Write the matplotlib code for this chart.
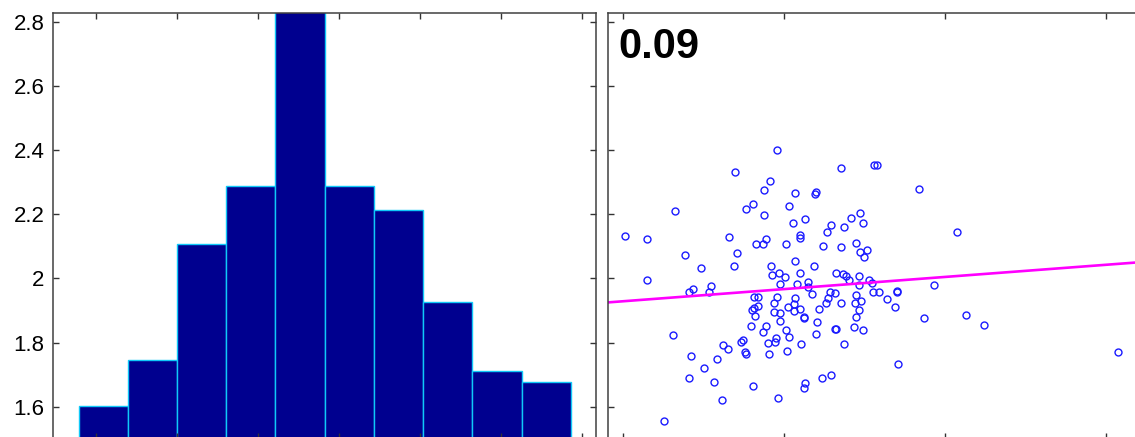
import numpy as np
import matplotlib
matplotlib.use("Agg")
import matplotlib.pyplot as plt

plt.rcParams['font.family'] = ['Liberation Sans', 'DejaVu Sans']

# histogram (diagonal panel)
hist_lo, hist_hi = -0.219, 5.856
hist_heights = [1.601, 1.746, 2.106, 2.289, 2.95, 2.289, 2.214, 1.927, 1.711, 1.677]

# scatter panel
x_vals = [0.014, 0.149, 0.325, 0.658, 0.383, 0.483, 0.688, 0.149, 0.694, 0.708,
          0.408, 0.433, 0.532, 0.548, 0.311, 0.422, 0.619, 0.650, 0.586, 0.501,
          0.408, 0.565, 0.615, 0.255, 0.958, 1.356, 0.915, 0.878, 1.070, 1.199,
          1.194, 0.807, 0.766, 1.033, 0.878, 1.474, 1.416, 1.491, 1.132, 1.058,
          1.290, 1.375, 1.267, 1.098, 1.098, 0.890, 0.826, 0.868, 1.012, 1.240,
          1.356, 1.447, 1.474, 1.499, 1.068, 0.921, 0.925, 0.967, 1.004, 0.973,
          1.186, 1.098, 1.083, 1.149, 1.149, 1.323, 1.366, 1.387, 1.402, 1.464,
          1.464, 0.812, 0.837, 0.957, 1.070, 1.176, 1.288, 1.319, 1.271, 1.447,
          0.812, 0.837, 0.822, 0.940, 1.025, 1.064, 1.101, 1.060, 0.940, 0.977,
          1.122, 1.122, 1.216, 1.263, 1.356, 1.439, 1.478, 1.464, 1.447, 0.797,
          0.888, 0.870, 0.977, 1.012, 1.205, 1.315, 1.325, 1.433, 1.489, 1.199,
          1.033, 0.952, 0.946, 0.899, 0.733, 0.745, 0.758, 0.761, 1.107, 1.373,
          0.909, 1.019, 0.807, 0.965, 1.122, 1.132, 1.236, 1.290, 0.804, 1.559,
          1.575, 1.837, 2.073, 1.517, 1.531, 1.547, 1.932, 1.551, 1.593, 1.704,
          1.705, 1.638, 1.689, 1.870, 2.130, 2.242, 1.710, 3.075]
y_vals = [2.132, 2.122, 2.210, 2.130, 2.074, 2.032, 2.039, 1.995, 2.331, 2.079,
          1.956, 1.966, 1.959, 1.977, 1.824, 1.758, 1.791, 1.780, 1.750, 1.722,
          1.689, 1.677, 1.621, 1.554, 2.401, 2.343, 2.303, 2.276, 2.267, 2.269,
          2.262, 2.231, 2.217, 2.227, 2.196, 2.205, 2.188, 2.172, 2.184, 2.174,
          2.167, 2.161, 2.146, 2.135, 2.126, 2.123, 2.107, 2.107, 2.108, 2.101,
          2.097, 2.110, 2.083, 2.066, 2.054, 2.040, 2.011, 2.018, 2.004, 1.983,
          2.039, 2.016, 1.982, 1.988, 1.974, 2.016, 2.014, 2.006, 1.995, 2.006,
          1.978, 1.941, 1.941, 1.943, 1.940, 1.950, 1.957, 1.954, 1.938, 1.949,
          1.909, 1.914, 1.883, 1.923, 1.911, 1.920, 1.904, 1.897, 1.895, 1.893,
          1.881, 1.876, 1.906, 1.923, 1.923, 1.923, 1.930, 1.901, 1.879, 1.850,
          1.853, 1.832, 1.868, 1.840, 1.865, 1.843, 1.843, 1.847, 1.840, 1.827,
          1.816, 1.814, 1.801, 1.798, 1.802, 1.808, 1.771, 1.765, 1.795, 1.795,
          1.764, 1.775, 1.663, 1.626, 1.658, 1.674, 1.691, 1.698, 1.900, 2.354,
          2.354, 2.277, 2.145, 2.087, 1.995, 1.985, 1.980, 1.956, 1.956, 1.961,
          1.958, 1.936, 1.910, 1.876, 1.886, 1.855, 1.733, 1.769]
fit_intercept = 1.9286
fit_slope = 0.0379
corr_label = "0.09"

yticks = [1.6, 1.8, 2.0, 2.2, 2.4, 2.6, 2.8]
ytick_labels = ["1.6", "1.8", "2", "2.2", "2.4", "2.6", "2.8"]

fig = plt.figure(figsize=(11.35, 4.37), dpi=100)
ax1 = fig.add_axes([0.04696, -0.00412, 0.47815, 0.97368])
ax2 = fig.add_axes([0.53542, -0.00412, 0.47815, 0.97368])

edges = np.linspace(hist_lo, hist_hi, len(hist_heights) + 1)
ax1.bar(edges[:-1], hist_heights, width=np.diff(edges), align='edge',
        color='#00008f', edgecolor='#10c8f8', linewidth=1.0)
ax1.set_xlim(-0.532, 6.168)
ax1.set_xticks(range(7))
ax1.set_xticklabels([])

ax2.plot(x_vals, y_vals, 'o', ms=5.0, mfc='none', mec='#1a1aff', mew=1.0)
xl = np.array([-0.095, 3.276])
ax2.plot(xl, fit_intercept + fit_slope * xl, color='#ff00ff', lw=1.9)
ax2.set_xlim(xl)
ax2.set_xticks([0, 1, 2, 3])
ax2.set_xticklabels([])
ax2.text(0.019, 0.894, corr_label, transform=ax2.transAxes, fontsize=30,
         fontweight='bold', ha='left', va='baseline')

for ax in (ax1, ax2):
    ax.set_ylim(1.5, 2.826)
    ax.set_yticks(yticks)
    ax.tick_params(direction='in', top=True, right=True, length=4, width=1,
                   color='#333333', pad=6.5, labelsize=16)
    for s in ax.spines.values():
        s.set_color('#404040')
        s.set_linewidth(1.1)
ax1.set_yticklabels(ytick_labels)
ax2.set_yticklabels([])

fig.savefig('out.png', dpi=100)
